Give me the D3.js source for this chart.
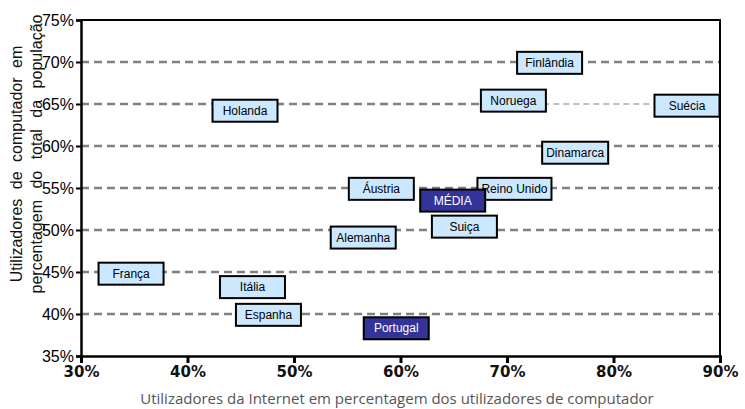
<!DOCTYPE html>
<html>
<head>
<meta charset="utf-8">
<script src="https://cdn.jsdelivr.net/npm/d3@7"></script>
<style>
  body { margin: 0; background: #fff; }
</style>
</head>
<body>
<script>
// chart size, same as the window
var width = 745,
    height = 409;

// data: country, internet users (% of pc users), pc users (% of population)
var countries = ["Holanda", "Finlândia", "Noruega", "Suécia", "Dinamarca", "Reino Unido", "Áustria",
                 "MÉDIA", "Suiça", "Alemanha", "França", "Itália", "Espanha", "Portugal"];
var internetPct = [45.4, 74.0, 70.6, 86.9, 76.4, 70.7, 58.2, 64.9, 66.0, 56.5, 34.7, 46.1, 47.6, 59.6];
var computerPct = [64.2, 69.9, 65.4, 64.8, 59.2, 54.9, 54.9, 53.5, 50.4, 49.1, 44.8, 43.2, 39.9, 38.3];
// the two highlighted labels
var highlighted = ["MÉDIA", "Portugal"];

var xTicks = [30, 40, 50, 60, 70, 80, 90];
var yTicks = [35, 40, 45, 50, 55, 60, 65, 70, 75];

var margin = {top: 20, right: 25, bottom: 53, left: 81};
var sans = "'Liberation Sans', Arial, sans-serif";

var svg = d3.select("body")
    .append("svg")
    .attr("width", width)
    .attr("height", height);

var x = d3.scaleLinear().domain([30, 90]).range([margin.left, width - margin.right]);
var y = d3.scaleLinear().domain([35, 75]).range([height - margin.bottom, margin.top]);

// dashed gridlines
svg.append("g")
    .selectAll("line")
    .data(yTicks.filter(function(d) { return d > 35 && d < 75; }))
    .enter().append("line")
    .attr("x1", x(30)).attr("x2", x(90))
    .attr("y1", function(d) { return y(d); })
    .attr("y2", function(d) { return y(d); })
    .attr("stroke", "#808080")
    .attr("stroke-width", 2.5)
    .attr("stroke-dasharray", "8,5");

// the 65% line runs thin between Noruega and Suécia in the original
var iNor = countries.indexOf("Noruega"), iSue = countries.indexOf("Suécia");
svg.append("line")
    .attr("x1", x(internetPct[iNor])).attr("x2", x(internetPct[iSue]))
    .attr("y1", y(65)).attr("y2", y(65))
    .attr("stroke", "#fff").attr("stroke-width", 4);
svg.append("line")
    .attr("x1", x(internetPct[iNor])).attr("x2", x(internetPct[iSue]))
    .attr("y1", y(65)).attr("y2", y(65))
    .attr("stroke", "#808080").attr("stroke-width", 1)
    .attr("stroke-dasharray", "6,4");

// frame top and right
svg.append("path")
    .attr("d", "M" + x(30) + "," + y(75) + "H" + x(90) + "V" + y(35))
    .attr("fill", "none")
    .attr("stroke", "#000")
    .attr("stroke-width", 2);

// x axis
var xAxis = svg.append("g")
    .attr("transform", "translate(0," + y(35) + ")")
    .call(d3.axisBottom(x).tickValues(xTicks).tickSize(7).tickPadding(3)
        .tickFormat(function(d) { return d + "%"; }));
xAxis.select(".domain").attr("stroke-width", 2.5).attr("stroke", "#000");
xAxis.selectAll(".tick line").attr("stroke-width", 3);
xAxis.selectAll("text")
    .style("font-size", "15px")
    .style("font-weight", "bold")
    .style("font-family", "'DejaVu Sans', sans-serif")
    .attr("fill", "#111");

// y axis
var yAxis = svg.append("g")
    .attr("transform", "translate(" + x(30) + ",0)")
    .call(d3.axisLeft(y).tickValues(yTicks).tickSize(5).tickPadding(2)
        .tickFormat(function(d) { return d + "%"; }));
yAxis.select(".domain").attr("stroke-width", 2.5).attr("stroke", "#000");
yAxis.selectAll(".tick line").attr("stroke-width", 2);
yAxis.selectAll("text")
    .style("font-size", "16px")
    .style("font-family", sans)
    .attr("fill", "#000");

// y title, two lines
svg.append("text")
    .attr("transform", "translate(22,164) rotate(-90)")
    .attr("text-anchor", "middle")
    .style("font-family", sans)
    .style("font-size", "16px")
    .style("word-spacing", "5px")
    .attr("fill", "#111")
    .text("Utilizadores de computador em");
svg.append("text")
    .attr("transform", "translate(42,154) rotate(-90)")
    .attr("text-anchor", "middle")
    .style("font-family", sans)
    .style("font-size", "16px")
    .style("word-spacing", "7px")
    .attr("fill", "#111")
    .text("percentagem do total da população");

// x title
svg.append("text")
    .attr("x", 397)
    .attr("y", 404)
    .attr("text-anchor", "middle")
    .style("font-family", "'Open Sans', sans-serif")
    .style("font-size", "15px")
    .attr("fill", "#555")
    .text("Utilizadores da Internet em percentagem dos utilizadores de computador");

// label boxes at each point
var rows = countries.map(function(c, i) {
    return {name: c, ix: internetPct[i], iy: computerPct[i], hi: highlighted.indexOf(c) >= 0};
});

var labels = svg.append("g")
    .selectAll("g")
    .data(rows)
    .enter().append("g")
    .attr("transform", function(d) { return "translate(" + x(d.ix) + "," + y(d.iy) + ")"; });

labels.append("rect")
    .attr("fill", function(d) { return d.hi ? "#333399" : "#cce8ff"; })
    .attr("stroke", "#000")
    .attr("stroke-width", 2);

labels.append("text")
    .attr("text-anchor", "middle")
    .attr("dy", "0.35em")
    .style("font-family", sans)
    .style("font-size", "12px")
    .attr("fill", function(d) { return d.hi ? "#fff" : "#000"; })
    .text(function(d) { return d.name; });

labels.each(function() {
    var g = d3.select(this);
    var w = Math.max(65, g.select("text").node().getComputedTextLength() + 8);
    g.select("rect")
        .attr("x", -w / 2).attr("y", -11)
        .attr("width", w).attr("height", 22);
});
</script>
</body>
</html>
